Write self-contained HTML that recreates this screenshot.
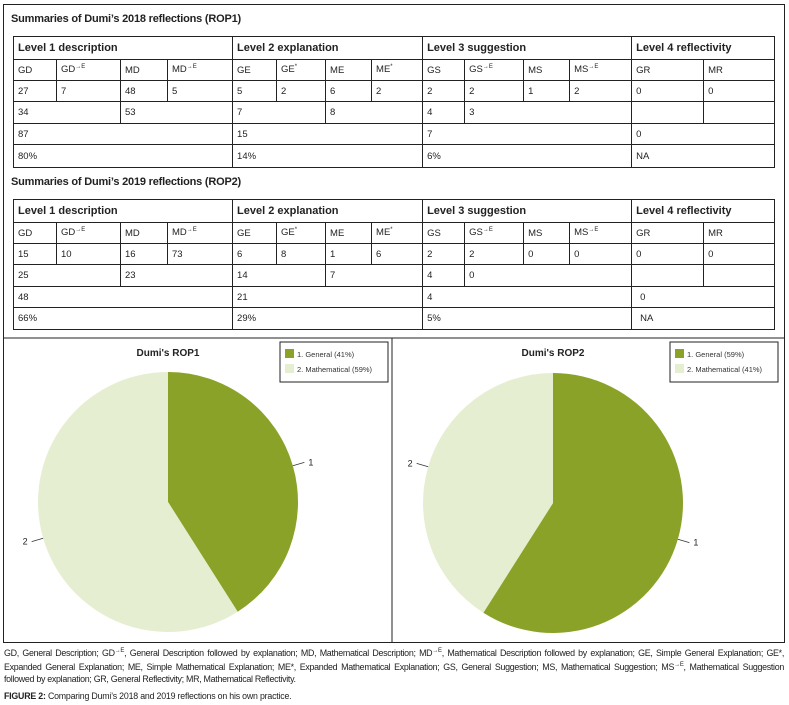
<!DOCTYPE html>
<html><head><meta charset="utf-8">
<style>
body{margin:0;width:789px;height:705px;background:#fff;font-family:"Liberation Sans",sans-serif;color:#222;position:relative;overflow:hidden}
.frame{position:absolute;left:3px;top:4px;width:782px;height:639px;border:1px solid #222;box-sizing:border-box}
.ttl{position:absolute;left:11px;font-size:11px;font-weight:bold;letter-spacing:-0.2px}
table{position:absolute;left:13px;border-collapse:collapse;table-layout:fixed;font-size:9.5px}
td{border:1px solid #222;padding:0 0 0 4px;vertical-align:middle;white-space:nowrap;overflow:hidden}
tr.h td{font-weight:bold;font-size:11px;height:22px}
tr.r td{height:20px}
sup{font-size:6px}
.note{position:absolute;left:4px;top:645px;width:780px;font-size:8.9px;line-height:12px;letter-spacing:-0.3px;text-align:justify}
.cap{position:absolute;left:4px;top:691px;font-size:8.8px;letter-spacing:-0.2px}
</style></head><body>
<div class="frame"></div>
<div class="ttl" style="top:13px">Summaries of Dumi’s 2018 reflections (ROP1)</div>
<table style="top:36px;width:761px">
<colgroup><col style="width:43px"><col style="width:64px"><col style="width:47px"><col style="width:65px"><col style="width:44px"><col style="width:49px"><col style="width:46px"><col style="width:51px"><col style="width:42px"><col style="width:59px"><col style="width:46px"><col style="width:62px"><col style="width:72px"><col style="width:71px"></colgroup>
<tr class="h"><td colspan="4">Level 1 description</td><td colspan="4">Level 2 explanation</td><td colspan="4">Level 3 suggestion</td><td colspan="2">Level 4 reflectivity</td></tr>
<tr class="r"><td>GD</td><td>GD<sup>→E</sup></td><td>MD</td><td>MD<sup>→E</sup></td><td>GE</td><td>GE<sup>*</sup></td><td>ME</td><td>ME<sup>*</sup></td><td>GS</td><td>GS<sup>→E</sup></td><td>MS</td><td>MS<sup>→E</sup></td><td>GR</td><td>MR</td></tr>
<tr class="r"><td>27</td><td>7</td><td>48</td><td>5</td><td>5</td><td>2</td><td>6</td><td>2</td><td>2</td><td>2</td><td>1</td><td>2</td><td>0</td><td>0</td></tr>
<tr class="r" style="height:22px"><td colspan="2">34</td><td colspan="2">53</td><td colspan="2">7</td><td colspan="2">8</td><td>4</td><td colspan="3">3</td><td></td><td></td></tr>
<tr class="r"><td colspan="4">87</td><td colspan="4">15</td><td colspan="4">7</td><td colspan="2">0</td></tr>
<tr class="r" style="height:23px"><td colspan="4">80%</td><td colspan="4">14%</td><td colspan="4">6%</td><td colspan="2">NA</td></tr>
</table>
<div class="ttl" style="top:176px">Summaries of Dumi’s 2019 reflections (ROP2)</div>
<table style="top:199px;width:761px">
<colgroup><col style="width:43px"><col style="width:64px"><col style="width:47px"><col style="width:65px"><col style="width:44px"><col style="width:49px"><col style="width:46px"><col style="width:51px"><col style="width:42px"><col style="width:59px"><col style="width:46px"><col style="width:62px"><col style="width:72px"><col style="width:71px"></colgroup>
<tr class="h"><td colspan="4">Level 1 description</td><td colspan="4">Level 2 explanation</td><td colspan="4">Level 3 suggestion</td><td colspan="2">Level 4 reflectivity</td></tr>
<tr class="r"><td>GD</td><td>GD<sup>→E</sup></td><td>MD</td><td>MD<sup>→E</sup></td><td>GE</td><td>GE<sup>*</sup></td><td>ME</td><td>ME<sup>*</sup></td><td>GS</td><td>GS<sup>→E</sup></td><td>MS</td><td>MS<sup>→E</sup></td><td>GR</td><td>MR</td></tr>
<tr class="r"><td>15</td><td>10</td><td>16</td><td>73</td><td>6</td><td>8</td><td>1</td><td>6</td><td>2</td><td>2</td><td>0</td><td>0</td><td>0</td><td>0</td></tr>
<tr class="r" style="height:22px"><td colspan="2">25</td><td colspan="2">23</td><td colspan="2">14</td><td colspan="2">7</td><td>4</td><td colspan="3">0</td><td></td><td></td></tr>
<tr class="r"><td colspan="4">48</td><td colspan="4">21</td><td colspan="4">4</td><td colspan="2" style="padding-left:8px">0</td></tr>
<tr class="r" style="height:22px"><td colspan="4">66%</td><td colspan="4">29%</td><td colspan="4">5%</td><td colspan="2" style="padding-left:8px">NA</td></tr>
</table>
<svg id="pies" width="789" height="705" style="position:absolute;left:0;top:0">
<line x1="3" y1="338" x2="785" y2="338" stroke="#222" stroke-width="1"/>
<line x1="392" y1="338" x2="392" y2="643" stroke="#222" stroke-width="1"/>
</svg>
<div class="note">GD, General Description; GD<sup>→E</sup>, General Description followed by explanation; MD, Mathematical Description; MD<sup>→E</sup>, Mathematical Description followed by explanation; GE, Simple General Explanation; GE*, Expanded General Explanation; ME, Simple Mathematical Explanation; ME*, Expanded Mathematical Explanation; GS, General Suggestion; MS, Mathematical Suggestion; MS<sup>→E</sup>, Mathematical Suggestion followed by explanation; GR, General Reflectivity; MR, Mathematical Reflectivity.</div>
<div class="cap"><b>FIGURE 2:</b> Comparing Dumi’s 2018 and 2019 reflections on his own practice.</div>
<script>
const categories = ["General", "Mathematical"];
const rop1Values = [41, 59];
const rop2Values = [59, 41];
const pieTitles = ["Dumi's ROP1", "Dumi's ROP2"];
const colors = ["#8aa228", "#e6eed2"];
const NS = "http://www.w3.org/2000/svg";
const svg = document.getElementById('pies');
function mk(tag, attrs, parent) {
  const e = document.createElementNS(NS, tag);
  for (const k in attrs) e.setAttribute(k, attrs[k]);
  (parent || svg).appendChild(e);
  return e;
}
function drawPie(values, cx, cy, r, title, legX, idx) {
  const total = values.reduce((a, b) => a + b, 0);
  let a0 = 0;
  const t = mk('text', {x: cx, y: 356, 'text-anchor': 'middle', 'font-size': '10', 'font-weight': 'bold', fill: '#222'});
  
  
  t.textContent = title;
  values.forEach((v, i) => {
    const a1 = a0 + v / total * 2 * Math.PI;
    const x0 = cx + r * Math.sin(a0), y0 = cy - r * Math.cos(a0);
    const x1 = cx + r * Math.sin(a1), y1 = cy - r * Math.cos(a1);
    const large = (a1 - a0) > Math.PI ? 1 : 0;
    const p = mk('path', {d: `M${cx},${cy} L${x0},${y0} A${r},${r} 0 ${large} 1 ${x1},${y1} Z`, fill: colors[i]});
    
    
    const am = (a0 + a1) / 2;
    const sx = cx + r * Math.sin(am), sy = cy - r * Math.cos(am);
    const ex = cx + (r + 12) * Math.sin(am), ey = cy - (r + 12) * Math.cos(am);
    mk('line', {x1: sx, y1: sy, x2: ex, y2: ey, stroke: '#333', 'stroke-width': 0.8});
    const lt = mk('text', {x: ex + (Math.sin(am) >= 0 ? 4 : -4), y: ey + 3, 'text-anchor': Math.sin(am) >= 0 ? 'start' : 'end', 'font-size': '9', fill: '#222'});
    
    
    lt.textContent = String(i + 1);
    a0 = a1;
  });
  const lg = mk('rect', {x: legX, y: 342, width: 108, height: 40, fill: '#fff', stroke: '#222', 'stroke-width': 1});
  
  
  values.forEach((v, i) => {
    mk('rect', {x: legX + 5, y: 349 + i * 15, width: 9, height: 9, fill: colors[i]});
    const et = mk('text', {x: legX + 17, y: 357 + i * 15, 'font-size': '7.5', fill: '#333'});
    
    
    et.textContent = (i + 1) + '. ' + categories[i] + ' (' + v + '%)';
  });
}
drawPie(rop1Values, 168, 502, 130, pieTitles[0], 280, 1);
drawPie(rop2Values, 553, 503, 130, pieTitles[1], 670, 2);
</script>
</body></html>
